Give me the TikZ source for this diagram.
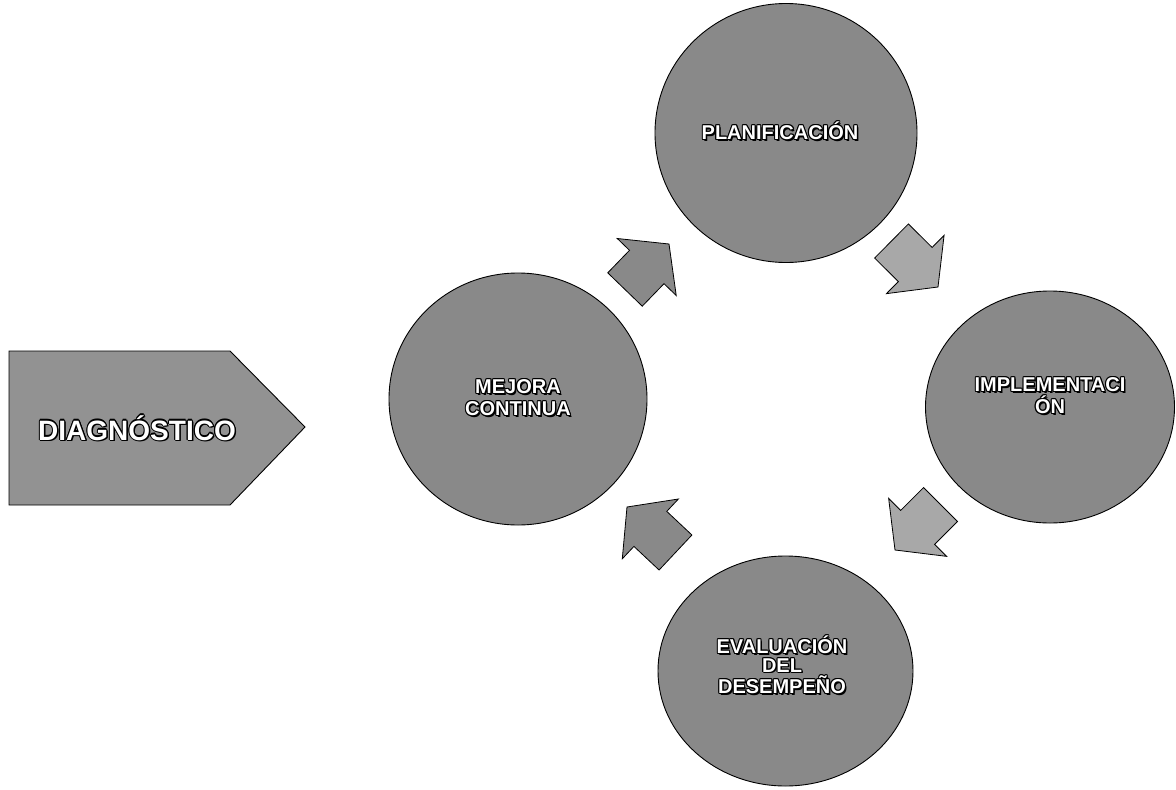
\documentclass[tikz,border=0pt]{standalone}
\usepackage{fontspec}
\setmainfont{Liberation Sans}
\usetikzlibrary{shapes.geometric,calc}
\definecolor{cgray}{HTML}{898989}
\definecolor{pgray}{HTML}{929292}
\definecolor{lgray}{HTML}{A8A8A8}
\newcommand\olt[1]{{\setbox0\hbox{#1}\makebox[\wd0][l]{%
 \rlap{\color{black}\kern1.1pt\copy0}%
 \rlap{\color{black}\kern-1.1pt\copy0}%
 \rlap{\color{black}\raise1.1pt\copy0}%
 \rlap{\color{black}\lower1.1pt\copy0}%
 \rlap{\color{black}\kern0.8pt\raise0.8pt\copy0}%
 \rlap{\color{black}\kern0.8pt\lower0.8pt\copy0}%
 \rlap{\color{black}\kern-0.8pt\raise0.8pt\copy0}%
 \rlap{\color{black}\kern-0.8pt\lower0.8pt\copy0}%
 \rlap{\color{black}\kern1.5pt\lower1.5pt\copy0}%
 \color{white}\copy0}}}
\newcommand\blockarrow[4]{% #1 name, #2 tail, #3 tip, #4 style
 \coordinate (#1n) at ($(#3)!32pt!(#2)$);
 \draw[#4] ($(#2)!24pt!90:(#3)$) -- ($(#1n)!24pt!90:(#3)$) -- ($(#1n)!41pt!90:(#3)$)
   -- (#3) -- ($(#1n)!41pt!-90:(#3)$) -- ($(#1n)!24pt!-90:(#3)$) -- ($(#2)!24pt!-90:(#3)$) -- cycle;}
\tikzset{
 stage/.style={ellipse, draw=black, line width=0.9pt, fill=cgray, inner sep=0pt},
 lbl/.style={font=\bfseries\fontsize{20}{22}\selectfont, align=center, inner sep=0pt},
 darrow/.style={draw=black, line width=0.8pt, fill=cgray, line join=miter},
 larrow/.style={draw=black, line width=0.8pt, fill=lgray, line join=miter},
 pent/.style={draw=black, line width=0.9pt, fill=pgray, line join=miter}
}
\begin{document}
\begin{tikzpicture}[x=1pt,y=-1pt]
\useasboundingbox (0,0) rectangle (1176,790);
\fill[white] (0,0) rectangle (1176,790);
% Diagnostico pentagon
\draw[pent] (9,351) -- (230,351) -- (305,427) -- (230,505) -- (9,505) -- cycle;
\node[lbl, font=\bfseries\fontsize{28}{30}\selectfont] (diag) at (137,428) {\olt{DIAGNÓSTICO}};
% stages
\node[stage, minimum width=258pt, minimum height=252pt] (mejora) at (518,399) {};
\node[stage, minimum width=262pt, minimum height=259pt] (plan) at (786,133) {};
\node[stage, minimum width=249pt, minimum height=232pt] (impl) at (1050,407) {};
\node[stage, minimum width=255pt, minimum height=230pt] (eval) at (785.5,671) {};
\node[lbl] (mejorat) at (518,398) {\olt{MEJORA}\\\olt{CONTINUA}};
\node[lbl] (plant) at (780,131) {\olt{PLANIFICACIÓN}};
\node[lbl] (implt) at (1050,396) {\olt{IMPLEMENTACI}\\\olt{ÓN}};
\node[lbl, font=\bfseries\fontsize{20}{18.5}\selectfont] (evalt) at (782,665) {\olt{EVALUACIÓN}\\\olt{DEL}\\\olt{DESEMPEÑO}};
% block arrows
\coordinate (a1s) at (625,289.5); \coordinate (a1e) at (669,244);
\coordinate (a2s) at (891.5,241); \coordinate (a2e) at (938,287);
\coordinate (a3s) at (940.5,504.5); \coordinate (a3e) at (895,550);
\coordinate (a4s) at (675.5,552.5); \coordinate (a4e) at (627,507);
\blockarrow{a1}{a1s}{a1e}{darrow}
\blockarrow{a2}{a2s}{a2e}{larrow}
\blockarrow{a3}{a3s}{a3e}{larrow}
\blockarrow{a4}{a4s}{a4e}{darrow}
\end{tikzpicture}
\end{document}
